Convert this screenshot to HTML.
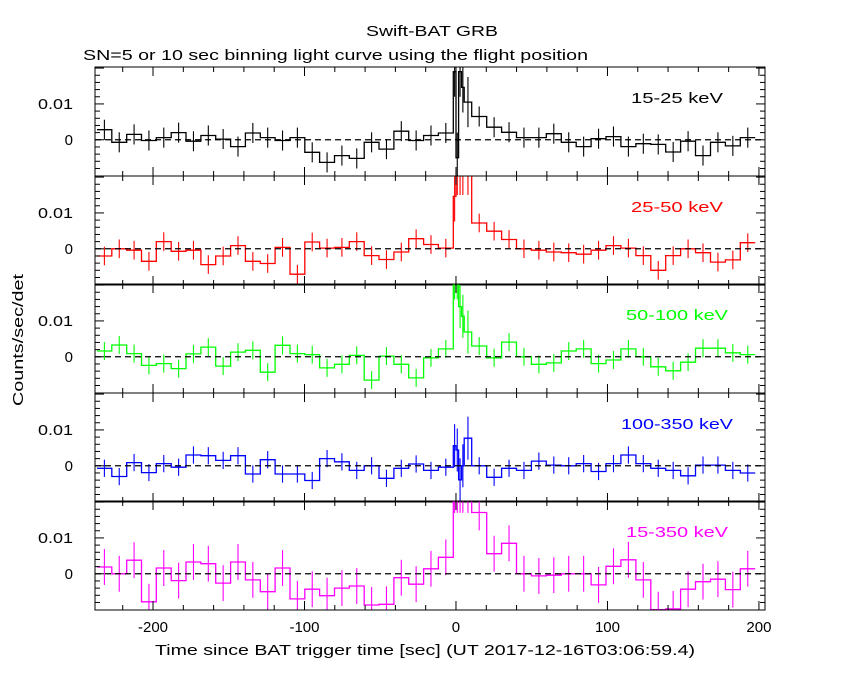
<!DOCTYPE html>
<html><head><meta charset="utf-8"><style>
body{margin:0;background:#fff;}
svg{display:block;font-family:"Liberation Sans",sans-serif;}
</style></head><body>
<svg id="c" width="850" height="680">
<text x="432" y="36" font-size="15" text-anchor="middle" textLength="132" lengthAdjust="spacingAndGlyphs">Swift-BAT GRB</text>
<text x="83" y="60" font-size="15" textLength="505" lengthAdjust="spacingAndGlyphs">SN=5 or 10 sec binning light curve using the flight position</text>
<text x="23" y="340" font-size="15" text-anchor="middle" textLength="132" lengthAdjust="spacingAndGlyphs" transform="rotate(-90 23 340)">Counts/sec/det</text>
<text x="425" y="655" font-size="15" text-anchor="middle" textLength="540" lengthAdjust="spacingAndGlyphs">Time since BAT trigger time [sec] (UT 2017-12-16T03:06:59.4)</text>
</svg>
<script>
const preStart=-237, preStep=9.8, preN=24;
const postStart=10.4, postStep=9.85;
const fineEdges=[-1.8,0,1.7,3.7,5.4,10.4];
const bands=["15-25 keV","25-50 keV","50-100 keV","100-350 keV","15-350 keV"];
const colors=["#000000","#ff0000","#00ff00","#0000ff","#ff00ff"];
// values in units of 1e-3 counts/sec/det
const pre1=[2.8,-0.7,1.5,-0.2,0.6,2.0,-0.4,1.2,0.2,-1.9,1.9,0.6,-0.2,0.6,-3.5,-6.3,-4.4,-5.2,-0.7,-2.6,2.4,-0.2,1.2,1.9];
const fine1=[19,-5,19,14.6,10.5];
const post1=[6.5,3.5,2.1,0.6,0.6,1.7,-0.7,-1.9,0.3,0.9,-1.9,-1.1,-1.3,-3.4,-0.4,-4.4,-0.7,-1.7,0.6];
const pre2=[-2.0,0,-0.4,-3.5,2.0,-0.7,-0.4,-4.4,-2.0,0.9,-3.5,-4.1,0.4,-7.1,1.9,0.2,0.4,2.0,-1.9,-3.0,-0.9,2.8,1.2,0.2];
const fine2=[14.6,22,22,22,22];
const post2=[7.2,4.9,2.6,0,-0.4,-0.9,-1.1,-1.5,-0.4,0.9,0.2,-1.9,-6.0,-1.9,0,-1.1,-3.7,-3.1,1.7];
const pre3=[1.6,3.3,0.9,-2.4,-1.9,-3.3,0.8,2.7,-2.6,1.3,1.8,-4.3,3.2,0.9,0.6,-3.1,-2.1,0.4,-6.5,0.2,-2.1,-5.9,-0.3,2.2];
const fine3=[22,22,14,11.3,6.9];
const post3=[3.0,-0.3,4.1,0,-2.1,-1.7,1.6,2.2,-1.9,-0.9,2.2,0,-2.8,-3.9,-1.5,2.4,2.4,1.1,0.6];
const pre4=[-0.7,-3.0,0.9,-1.9,0.6,-0.4,3.0,2.8,1.5,2.8,-2.3,1.7,-2.3,-2.3,-4.1,2.0,1.1,-1.3,0,-3.5,-0.7,0.5,-1.3,-0.4];
const fine4=[5.6,4.4,-3.9,0,7.7];
const post4=[0,-3.2,-0.7,-1.3,1.3,0.2,0,0.6,-1.6,0.6,3.0,0.6,-0.7,-1.3,-2.8,0.2,0.2,-1.3,-2.0];
const pre5=[1.9,0,3.8,-7.8,1.6,-1.9,3.3,2.8,-2.6,3.3,-1.7,-5.0,1.6,-7.0,-4.3,-6.1,-4.0,-3.4,-8.7,-8.5,-1.1,-2.9,1.4,4.6];
const fine5=[25,25,25,25,25];
const post5=[17.1,5.6,8.5,0,-0.6,-0.4,0,0,-3.1,2.1,3.9,-1.7,-10,-9.8,-4.3,-2.2,-1.5,-4.4,1.4];
const errs=[2.8,2.6,2.5,2.4,5.0];
const fineErrs=[7,7,6,6,8];
const xTicks=[-200,-100,0,100,200];
const yTicks=[0,0.01];

const svg=document.getElementById('c');
const NS='http://www.w3.org/2000/svg';
const X0=95,X1=765,tMin=-238.3,tMax=204;
const panelTop=[67,176,284,393,501], panelH=109;
const yMin=-0.0101,yMax=0.0203;
function sx(t){return X0+(t-tMin)/(tMax-tMin)*(X1-X0);}
function sy(p,v){return panelTop[p]+panelH-(v-yMin)/(yMax-yMin)*panelH;}
function mk(tag,attrs,parent){const e=document.createElementNS(NS,tag);for(const k in attrs)e.setAttribute(k,attrs[k]);(parent||svg).appendChild(e);return e;}
const pres=[pre1,pre2,pre3,pre4,pre5],fines=[fine1,fine2,fine3,fine4,fine5],posts=[post1,post2,post3,post4,post5];
const labelW=[92,92,102,112,102];
const defs=mk('defs',{});
for(let p=0;p<5;p++){
  const cp=mk('clipPath',{id:'cp'+p},defs);
  mk('rect',{x:X0,y:panelTop[p],width:X1-X0,height:panelH},cp);
  const g=mk('g',{'clip-path':'url(#cp'+p+')'});
  
  
  const bins=[];
  pres[p].forEach((v,i)=>bins.push([preStart+i*preStep,preStart+(i+1)*preStep,v,errs[p]]));
  fines[p].forEach((v,i)=>bins.push([fineEdges[i],fineEdges[i+1],v,fineErrs[p]]));
  posts[p].forEach((v,i)=>bins.push([postStart+i*postStep,postStart+(i+1)*postStep,v,errs[p]]));
  let d='';
  bins.forEach((b,i)=>{
    const y=sy(p,b[2]*1e-3);
    d+=(i===0?'M':'L')+sx(b[0]).toFixed(1)+','+y.toFixed(1)+'L'+sx(b[1]).toFixed(1)+','+y.toFixed(1);
  });
  const path=mk('path',{d:d,fill:'none',stroke:colors[p],'stroke-width':1.3},g);
  
  
  bins.forEach(b=>{
    const xc=sx((b[0]+b[1])/2);
    const eb=mk('line',{x1:xc,x2:xc,y1:sy(p,(b[2]+b[3])*1e-3),y2:sy(p,(b[2]-b[3])*1e-3),stroke:colors[p],'stroke-width':1.1},g);
    
    
  });
  const z=mk('line',{x1:X0,x2:X1,y1:sy(p,0),y2:sy(p,0),stroke:'#000','stroke-dasharray':'6,4','stroke-width':1.2});
  
  
  const fr=mk('rect',{x:X0,y:panelTop[p],width:X1-X0,height:panelH,fill:'none',stroke:'#000','stroke-width':1});
  
  
  for(let t=-220;t<=200;t+=20){
    const major=(t%100===0);const L=major?9:5;const x=sx(t);
    mk('line',{x1:x,x2:x,y1:panelTop[p],y2:panelTop[p]+L,stroke:'#000'});
    mk('line',{x1:x,x2:x,y1:panelTop[p]+panelH,y2:panelTop[p]+panelH-L,stroke:'#000'});
  }
  for(let k=-4;k<=10;k++){
    const v=k*0.002;if(v<yMin||v>yMax)continue;
    const major=(k%5===0);const L=major?9:5;const y=sy(p,v);
    mk('line',{x1:X0,x2:X0+L,y1:y,y2:y,stroke:'#000'});
    mk('line',{x1:X1,x2:X1-L,y1:y,y2:y,stroke:'#000'});
  }
  yTicks.forEach(v=>{
    const tl=mk('text',{x:73,y:sy(p,v)+5,'font-size':15,'text-anchor':'end'});
    tl.textContent=v===0?'0':'0.01';
    if(v!==0){tl.setAttribute('textLength','35');tl.setAttribute('lengthAdjust','spacingAndGlyphs');}
    
    
  });
  const lb=mk('text',{x:677,y:panelTop[p]+36,'font-size':15,'text-anchor':'middle',fill:colors[p],textLength:labelW[p],lengthAdjust:'spacingAndGlyphs'});
  lb.textContent=bands[p];
  
  
}
xTicks.forEach(t=>{
  const tl=mk('text',{x:sx(t),y:632,'font-size':15,'text-anchor':'middle'});
  tl.textContent=String(t);
  
  
});
</script>
</body></html>
